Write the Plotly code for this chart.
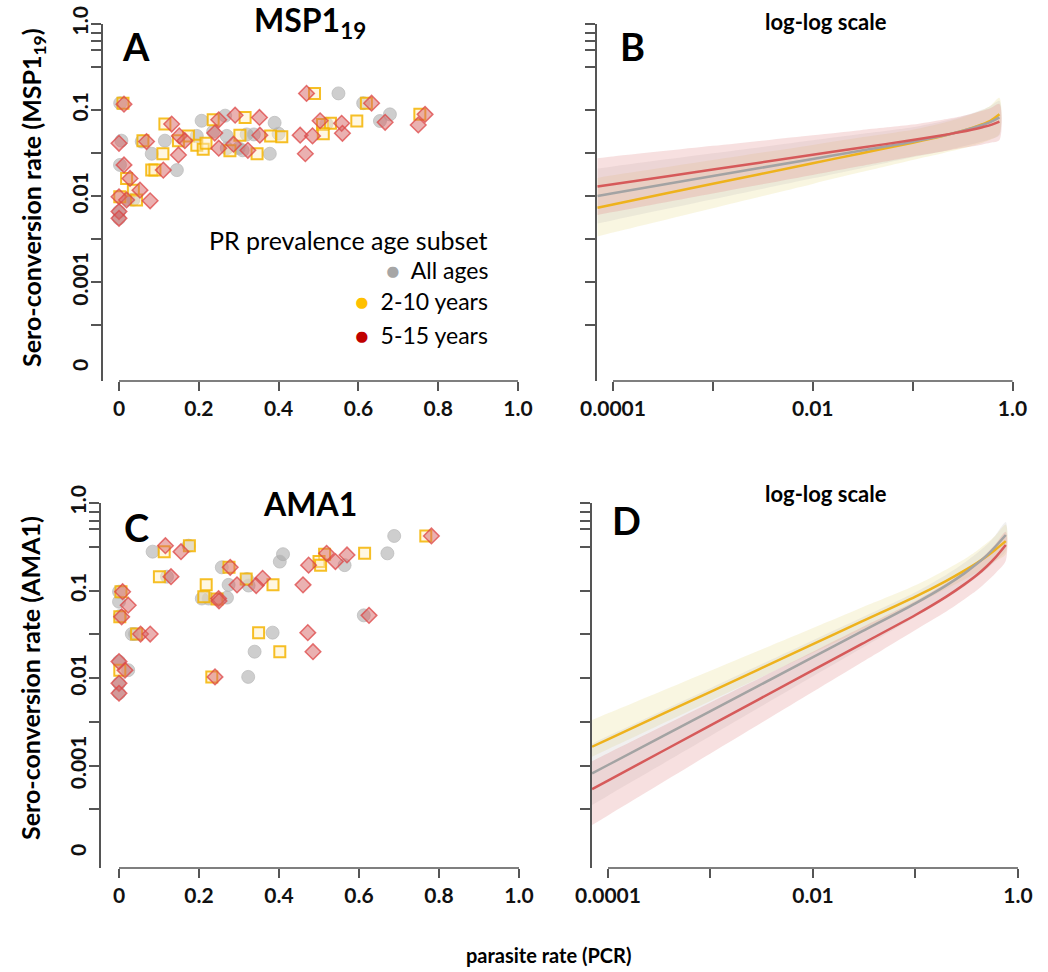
import plotly.graph_objects as go

W, H = 1048, 972
FONT = "Lato"
AXC = "#555555"

# ---------------- Panel A: MSP1-19 sero-conversion vs PCR parasite rate ----------------
msp_all_pr = [0.003, 0.55, 0.612, 0.679, 0.654, 0.52, 0.207, 0.266, 0.39, 0.236, 0.195, 0.27,
              0.32, 0.338, 0.40, 0.115, 0.057, 0.006, 0.082, 0.27, 0.31, 0.378, 0.0025, 0.145,
              0.023, 0.036, 0.0, 0.0, 0.30]
msp_all_scr = [0.12, 0.156, 0.12, 0.089, 0.0745, 0.069, 0.075, 0.086, 0.071, 0.056, 0.050, 0.050,
               0.052, 0.052, 0.053, 0.044, 0.043, 0.044, 0.031, 0.036, 0.034, 0.031, 0.023, 0.020,
               0.0091, 0.0091, 0.0066, 0.0055, 0.036]

msp_210_pr = [0.49, 0.62, 0.754, 0.596, 0.51, 0.53, 0.512, 0.316, 0.236, 0.115, 0.174, 0.149,
              0.303, 0.38, 0.408, 0.195, 0.211, 0.218, 0.11, 0.278, 0.346, 0.082, 0.09, 0.019,
              0.036, 0.002, 0.044, 0.06, 0.01]
msp_210_scr = [0.156, 0.12, 0.089, 0.0745, 0.068, 0.07, 0.053, 0.082, 0.077, 0.0687, 0.050, 0.044,
               0.051, 0.050, 0.049, 0.039, 0.035, 0.041, 0.031, 0.0336, 0.031, 0.020, 0.020, 0.016,
               0.0117, 0.0098, 0.009, 0.044, 0.12]

msp_515_pr = [0.0125, 0.47, 0.633, 0.767, 0.667, 0.75, 0.504, 0.558, 0.56, 0.454, 0.485, 0.467,
              0.291, 0.352, 0.25, 0.132, 0.24, 0.151, 0.165, 0.069, 0.0, 0.353, 0.149, 0.25,
              0.287, 0.323, 0.0125, 0.111, 0.0276, 0.0526, 0.0, 0.019, 0.078, 0.0, 0.0]
msp_515_scr = [0.117, 0.156, 0.12, 0.089, 0.072, 0.067, 0.075, 0.07, 0.0536, 0.051, 0.050, 0.031,
               0.087, 0.082, 0.077, 0.0687, 0.054, 0.050, 0.044, 0.043, 0.041, 0.051, 0.030, 0.036,
               0.040, 0.034, 0.023, 0.020, 0.016, 0.0117, 0.0098, 0.009, 0.0088, 0.0066, 0.0055]

# ---------------- Panel C: AMA1 sero-conversion vs PCR parasite rate ----------------
ama_all_pr = [0.688, 0.671, 0.564, 0.41, 0.402, 0.32, 0.324, 0.274, 0.257, 0.207, 0.224, 0.27,
              0.084, 0.174, 0.12, 0.0, 0.0, 0.0025, 0.032, 0.04, 0.612, 0.384, 0.339, 0.0,
              0.023, 0.323, 0.0, 0.0]
ama_all_scr = [0.42, 0.266, 0.195, 0.26, 0.214, 0.135, 0.114, 0.116, 0.184, 0.081, 0.081, 0.083,
               0.278, 0.325, 0.144, 0.097, 0.0745, 0.051, 0.0318, 0.0318, 0.052, 0.033, 0.020, 0.0154,
               0.0123, 0.0103, 0.0087, 0.0067]

ama_210_pr = [0.767, 0.614, 0.514, 0.50, 0.504, 0.385, 0.318, 0.218, 0.275, 0.212, 0.245, 0.113,
              0.176, 0.101, 0.044, 0.002, 0.349, 0.402, 0.002, 0.232, 0.005]
ama_210_scr = [0.42, 0.266, 0.26, 0.214, 0.195, 0.116, 0.135, 0.116, 0.184, 0.085, 0.080, 0.278,
               0.325, 0.144, 0.0318, 0.050, 0.033, 0.020, 0.0123, 0.0103, 0.097]

ama_515_pr = [0.781, 0.57, 0.541, 0.519, 0.474, 0.46, 0.359, 0.343, 0.295, 0.278, 0.249, 0.25,
              0.116, 0.155, 0.13, 0.009, 0.023, 0.0066, 0.054, 0.078, 0.625, 0.472, 0.485, 0.015,
              0.24, 0.0, 0.0, 0.0]
ama_515_scr = [0.42, 0.255, 0.214, 0.266, 0.195, 0.116, 0.138, 0.114, 0.116, 0.184, 0.081, 0.076,
               0.325, 0.278, 0.144, 0.097, 0.068, 0.050, 0.0318, 0.0318, 0.052, 0.033, 0.020, 0.0123,
               0.0103, 0.0154, 0.0087, 0.0067]

# ---------------- Panel B: MSP1-19 fitted curves, log10(SCR) with 95% bands ----------------
msp_fit_pr = [0.00007, 0.0001, 0.001, 0.01, 0.03, 0.1, 0.2, 0.3, 0.4, 0.5, 0.6, 0.74]
msp_all_log = [-2.0, -1.968, -1.768, -1.569, -1.474, -1.37, -1.30, -1.25, -1.21, -1.175, -1.14, -1.085]
msp_all_log_hi = [-1.68, -1.656, -1.504, -1.352, -1.279, -1.20, -1.13, -1.08, -1.035, -0.995, -0.955, -0.895]
msp_all_log_lo = [-2.32, -2.281, -2.038, -1.794, -1.679, -1.55, -1.48, -1.43, -1.395, -1.365, -1.34, -1.295]
msp_210_log = [-2.136, -2.098, -1.858, -1.619, -1.505, -1.38, -1.302, -1.249, -1.205, -1.166, -1.126, -1.049]
msp_210_log_hi = [-1.79, -1.76, -1.582, -1.406, -1.32, -1.23, -1.152, -1.094, -1.045, -1.001, -0.951, -0.859]
msp_210_log_lo = [-2.47, -2.425, -2.142, -1.859, -1.725, -1.58, -1.502, -1.454, -1.415, -1.381, -1.346, -1.279]
msp_515_log = [-1.89, -1.863, -1.692, -1.521, -1.439, -1.35, -1.293, -1.256, -1.226, -1.20, -1.176, -1.135]
msp_515_log_hi = [-1.56, -1.54, -1.417, -1.293, -1.234, -1.17, -1.113, -1.076, -1.041, -1.01, -0.981, -0.93]
msp_515_log_lo = [-2.22, -2.186, -1.97, -1.755, -1.652, -1.54, -1.483, -1.446, -1.421, -1.40, -1.381, -1.35]

# ---------------- Panel D: AMA1 fitted curves, log10(SCR) with 95% bands ----------------
ama_fit_pr = [0.00007, 0.0001, 0.001, 0.01, 0.03, 0.1, 0.2, 0.3, 0.4, 0.5, 0.6, 0.76]
ama_all_log = [-3.09, -2.994, -2.378, -1.762, -1.468, -1.146, -0.941, -0.804, -0.692, -0.595, -0.50, -0.366]
ama_all_log_hi = [-2.75, -2.664, -2.116, -1.568, -1.308, -1.02, -0.821, -0.684, -0.572, -0.475, -0.37, -0.216]
ama_all_log_lo = [-3.45, -3.344, -2.663, -1.981, -1.658, -1.30, -1.091, -0.954, -0.842, -0.75, -0.665, -0.546]
ama_210_log = [-2.785, -2.70, -2.157, -1.614, -1.354, -1.07, -0.889, -0.773, -0.683, -0.605, -0.534, -0.436]
ama_210_log_hi = [-2.48, -2.404, -1.916, -1.428, -1.194, -0.94, -0.759, -0.643, -0.543, -0.455, -0.374, -0.246]
ama_210_log_lo = [-2.90, -2.814, -2.263, -1.712, -1.448, -1.16, -0.979, -0.873, -0.793, -0.725, -0.664, -0.586]
ama_515_log = [-3.27, -3.172, -2.541, -1.91, -1.61, -1.28, -1.07, -0.93, -0.82, -0.72, -0.625, -0.48]
ama_515_log_hi = [-2.95, -2.86, -2.281, -1.70, -1.42, -1.12, -0.915, -0.78, -0.67, -0.57, -0.475, -0.33]
ama_515_log_lo = [-3.68, -3.57, -2.863, -2.157, -1.82, -1.45, -1.24, -1.10, -0.995, -0.895, -0.805, -0.66]

# ---------------- tick values and labels ----------------
y_tick_vals = [1.0, 0.794, 0.631, 0.501, 0.316, 0.1, 0.0316, 0.01, 0.00316, 0.001, 0.000316]
y_label_vals = [1.0, 0.1, 0.01, 0.001, 0.0001]
y_label_text = ["1.0", "0.1", "0.01", "0.001", "0"]
lin_tick_vals = [0, 0.2, 0.4, 0.6, 0.8, 1.0]
lin_tick_text = ["0", "0.2", "0.4", "0.6", "0.8", "1.0"]
log_tick_vals = [0.0001, 0.01, 1.0]
log_tick_text = ["0.0001", "0.01", "1.0"]
log_minor_vals = [0.001, 0.1]

GREY = dict(color="rgba(165,165,165,0.55)", line=dict(color="rgba(185,185,185,0.7)", width=1))
GOLD = dict(color="rgba(255,238,190,0.45)", line=dict(color="rgba(244,180,0,0.85)", width=2))
RED = dict(color="rgba(214,100,100,0.5)", line=dict(color="rgba(222,70,70,0.75)", width=1.5))

fig = go.Figure()


def px_x(p):
    return p / W


def px_y(p):
    return 1 - p / H


def unlog(vals):
    return [10 ** v for v in vals]


def scatter_panel(xa, ya, pr_all, s_all, pr_210, s_210, pr_515, s_515):
    fig.add_trace(go.Scatter(x=pr_all, y=s_all, mode="markers", xaxis=xa, yaxis=ya,
                             marker=dict(symbol="circle", size=13, **GREY), showlegend=False,
                             cliponaxis=False))
    fig.add_trace(go.Scatter(x=pr_210, y=s_210, mode="markers", xaxis=xa, yaxis=ya,
                             marker=dict(symbol="square", size=11, **GOLD), showlegend=False,
                             cliponaxis=False))
    fig.add_trace(go.Scatter(x=pr_515, y=s_515, mode="markers", xaxis=xa, yaxis=ya,
                             marker=dict(symbol="diamond", size=12, **RED), showlegend=False,
                             cliponaxis=False))


def band(xa, ya, xs, lo, hi, fillcolor):
    fig.add_trace(go.Scatter(x=list(xs) + list(xs)[::-1], y=unlog(hi) + unlog(lo)[::-1],
                             mode="lines", line=dict(width=0, shape="spline", smoothing=0.8),
                             fill="toself", fillcolor=fillcolor, xaxis=xa, yaxis=ya,
                             showlegend=False, hoverinfo="skip"))


def curve(xa, ya, xs, ys, color):
    fig.add_trace(go.Scatter(x=xs, y=unlog(ys), mode="lines", xaxis=xa, yaxis=ya,
                             line=dict(color=color, width=2.5, shape="spline", smoothing=0.8),
                             showlegend=False))


scatter_panel("x", "y", msp_all_pr, msp_all_scr, msp_210_pr, msp_210_scr, msp_515_pr, msp_515_scr)
scatter_panel("x3", "y3", ama_all_pr, ama_all_scr, ama_210_pr, ama_210_scr, ama_515_pr, ama_515_scr)

BAND_GOLD = "rgba(238,228,170,0.35)"
BAND_GREY = "rgba(190,185,185,0.22)"
BAND_RED = "rgba(222,130,130,0.25)"
LINE_GOLD = "#EEB21C"
LINE_GREY = "#A3A3A3"
LINE_RED = "#D65A5A"

band("x2", "y2", msp_fit_pr, msp_210_log_lo, msp_210_log_hi, BAND_GOLD)
band("x2", "y2", msp_fit_pr, msp_all_log_lo, msp_all_log_hi, BAND_GREY)
band("x2", "y2", msp_fit_pr, msp_515_log_lo, msp_515_log_hi, BAND_RED)
curve("x2", "y2", msp_fit_pr, msp_210_log, LINE_GOLD)
curve("x2", "y2", msp_fit_pr, msp_all_log, LINE_GREY)
curve("x2", "y2", msp_fit_pr, msp_515_log, LINE_RED)

band("x4", "y4", ama_fit_pr, ama_210_log_lo, ama_210_log_hi, BAND_GOLD)
band("x4", "y4", ama_fit_pr, ama_all_log_lo, ama_all_log_hi, BAND_GREY)
band("x4", "y4", ama_fit_pr, ama_515_log_lo, ama_515_log_hi, BAND_RED)
curve("x4", "y4", ama_fit_pr, ama_210_log, LINE_GOLD)
curve("x4", "y4", ama_fit_pr, ama_all_log, LINE_GREY)
curve("x4", "y4", ama_fit_pr, ama_515_log, LINE_RED)

tickfont = dict(family=FONT, size=21, color="#111111", weight="bold")

# panel boxes in pixels: (left, right, top, bottom)
boxes = {
    "A": (103, 520, 24, 381),
    "B": (597, 1013, 24, 381),
    "C": (101, 521, 503, 868),
    "D": (592, 1019, 503, 868),
}
xranges = {
    "A": [-0.0401, 1.005],
    "B": [-4.16, 0.005],
    "C": [-0.045, 1.005],
    "D": [-4.156, 0.01],
}
yranges = {"A": [-4.151, 0.0], "B": [-4.151, 0.0], "C": [-4.171, 0.0], "D": [-4.171, 0.0]}

layout = dict(width=W, height=H, autosize=False,
              margin=dict(l=0, r=0, t=0, b=0, pad=0, autoexpand=False),
              paper_bgcolor="white", plot_bgcolor="white", font=dict(family=FONT))

names = ["A", "B", "C", "D"]
for i, nm in enumerate(names, start=1):
    l, r, t, b = boxes[nm]
    sfx = "" if i == 1 else str(i)
    is_log = nm in ("B", "D")
    xa = dict(
        domain=[px_x(l), px_x(r)], anchor="y" + sfx, range=xranges[nm],
        type="log" if is_log else "linear",
        tickvals=log_tick_vals if is_log else lin_tick_vals,
        ticktext=log_tick_text if is_log else lin_tick_text,
        ticks="outside", ticklen=9, tickwidth=1.5, tickcolor=AXC, automargin=False,
        showline=False, showgrid=False, zeroline=False, tickfont=tickfont,
    )
    if is_log:
        xa["minor"] = dict(tickvals=log_minor_vals, ticks="outside", ticklen=9, tickwidth=1.5,
                           tickcolor=AXC, showgrid=False)
    layout["xaxis" + sfx] = xa
    layout["yaxis" + sfx] = dict(
        domain=[px_y(b), px_y(t)], anchor="x" + sfx, range=yranges[nm], type="log",
        tickvals=y_tick_vals, ticks="outside", ticklen=10, tickwidth=1.5, tickcolor=AXC,
        showticklabels=False, showline=True, linecolor=AXC, linewidth=1.5, automargin=False,
        showgrid=False, zeroline=False,
    )

# label-only overlay axes for the left panels
for j, (base, nm) in enumerate([("y", "A"), ("y3", "C")], start=5):
    layout["yaxis%d" % j] = dict(
        overlaying=base, anchor="x" if base == "y" else "x3", side="left", type="log",
        range=yranges[nm], tickvals=y_label_vals, ticktext=y_label_text, ticks="",
        tickangle=-90, tickfont=tickfont, showline=False, showgrid=False, zeroline=False,
        ticklabelstandoff=10, automargin=False,
    )
fig.add_trace(go.Scatter(x=[None], y=[None], xaxis="x", yaxis="y5", showlegend=False))
fig.add_trace(go.Scatter(x=[None], y=[None], xaxis="x3", yaxis="y6", showlegend=False))

fig.update_layout(**layout)

# detached x-axis lines running from the first to the last tick
shapes = []
for i, nm in enumerate(names, start=1):
    sfx = "" if i == 1 else str(i)
    lo, hi = xranges[nm]
    a, z = (-4.0, 0.0) if nm in ("B", "D") else (0.0, 1.0)
    shapes.append(dict(type="line", xref="x%s domain" % sfx, yref="y%s domain" % sfx,
                       x0=(a - lo) / (hi - lo), x1=(z - lo) / (hi - lo), y0=0, y1=0,
                       line=dict(color=AXC, width=1.5)))
fig.update_layout(shapes=shapes)

ann = []


def text(x, y, s, size, bold=True, xanchor="center", angle=0, color="#000000"):
    ann.append(dict(x=px_x(x), y=px_y(y), xref="paper", yref="paper", text=s, showarrow=False,
                    xanchor=xanchor, yanchor="middle", textangle=angle,
                    font=dict(family=FONT, size=size, color=color,
                              weight="bold" if bold else "normal")))


text(136, 46, "A", 38)
text(632, 46, "B", 38)
text(136, 527, "C", 38)
text(626, 520, "D", 38)
text(310, 22, "MSP1<sub>19</sub>", 32)
text(310, 503, "AMA1", 32)
text(826, 22, "log-log scale", 22)
text(826, 493, "log-log scale", 22)
text(548, 955, "parasite rate (PCR)", 20)
text(33, 198, "Sero-conversion rate (MSP1<sub>19</sub>)", 25, angle=-90)
text(30, 678, "Sero-conversion rate (AMA1)", 25, angle=-90)

DOT = "<span style='color:%s;font-size:23px'>\u25CF</span>  %s"
text(490, 240, "PR prevalence age subset", 25, bold=False, xanchor="right")
text(490, 270, DOT % ("#A6A6A6", "All ages"), 23, bold=False, xanchor="right")
text(490, 301, DOT % ("#FFC000", "2-10 years"), 23, bold=False, xanchor="right")
text(490, 335, DOT % ("#C00000", "5-15 years"), 23, bold=False, xanchor="right")

fig.update_layout(annotations=ann)
fig.write_html("out.html")
